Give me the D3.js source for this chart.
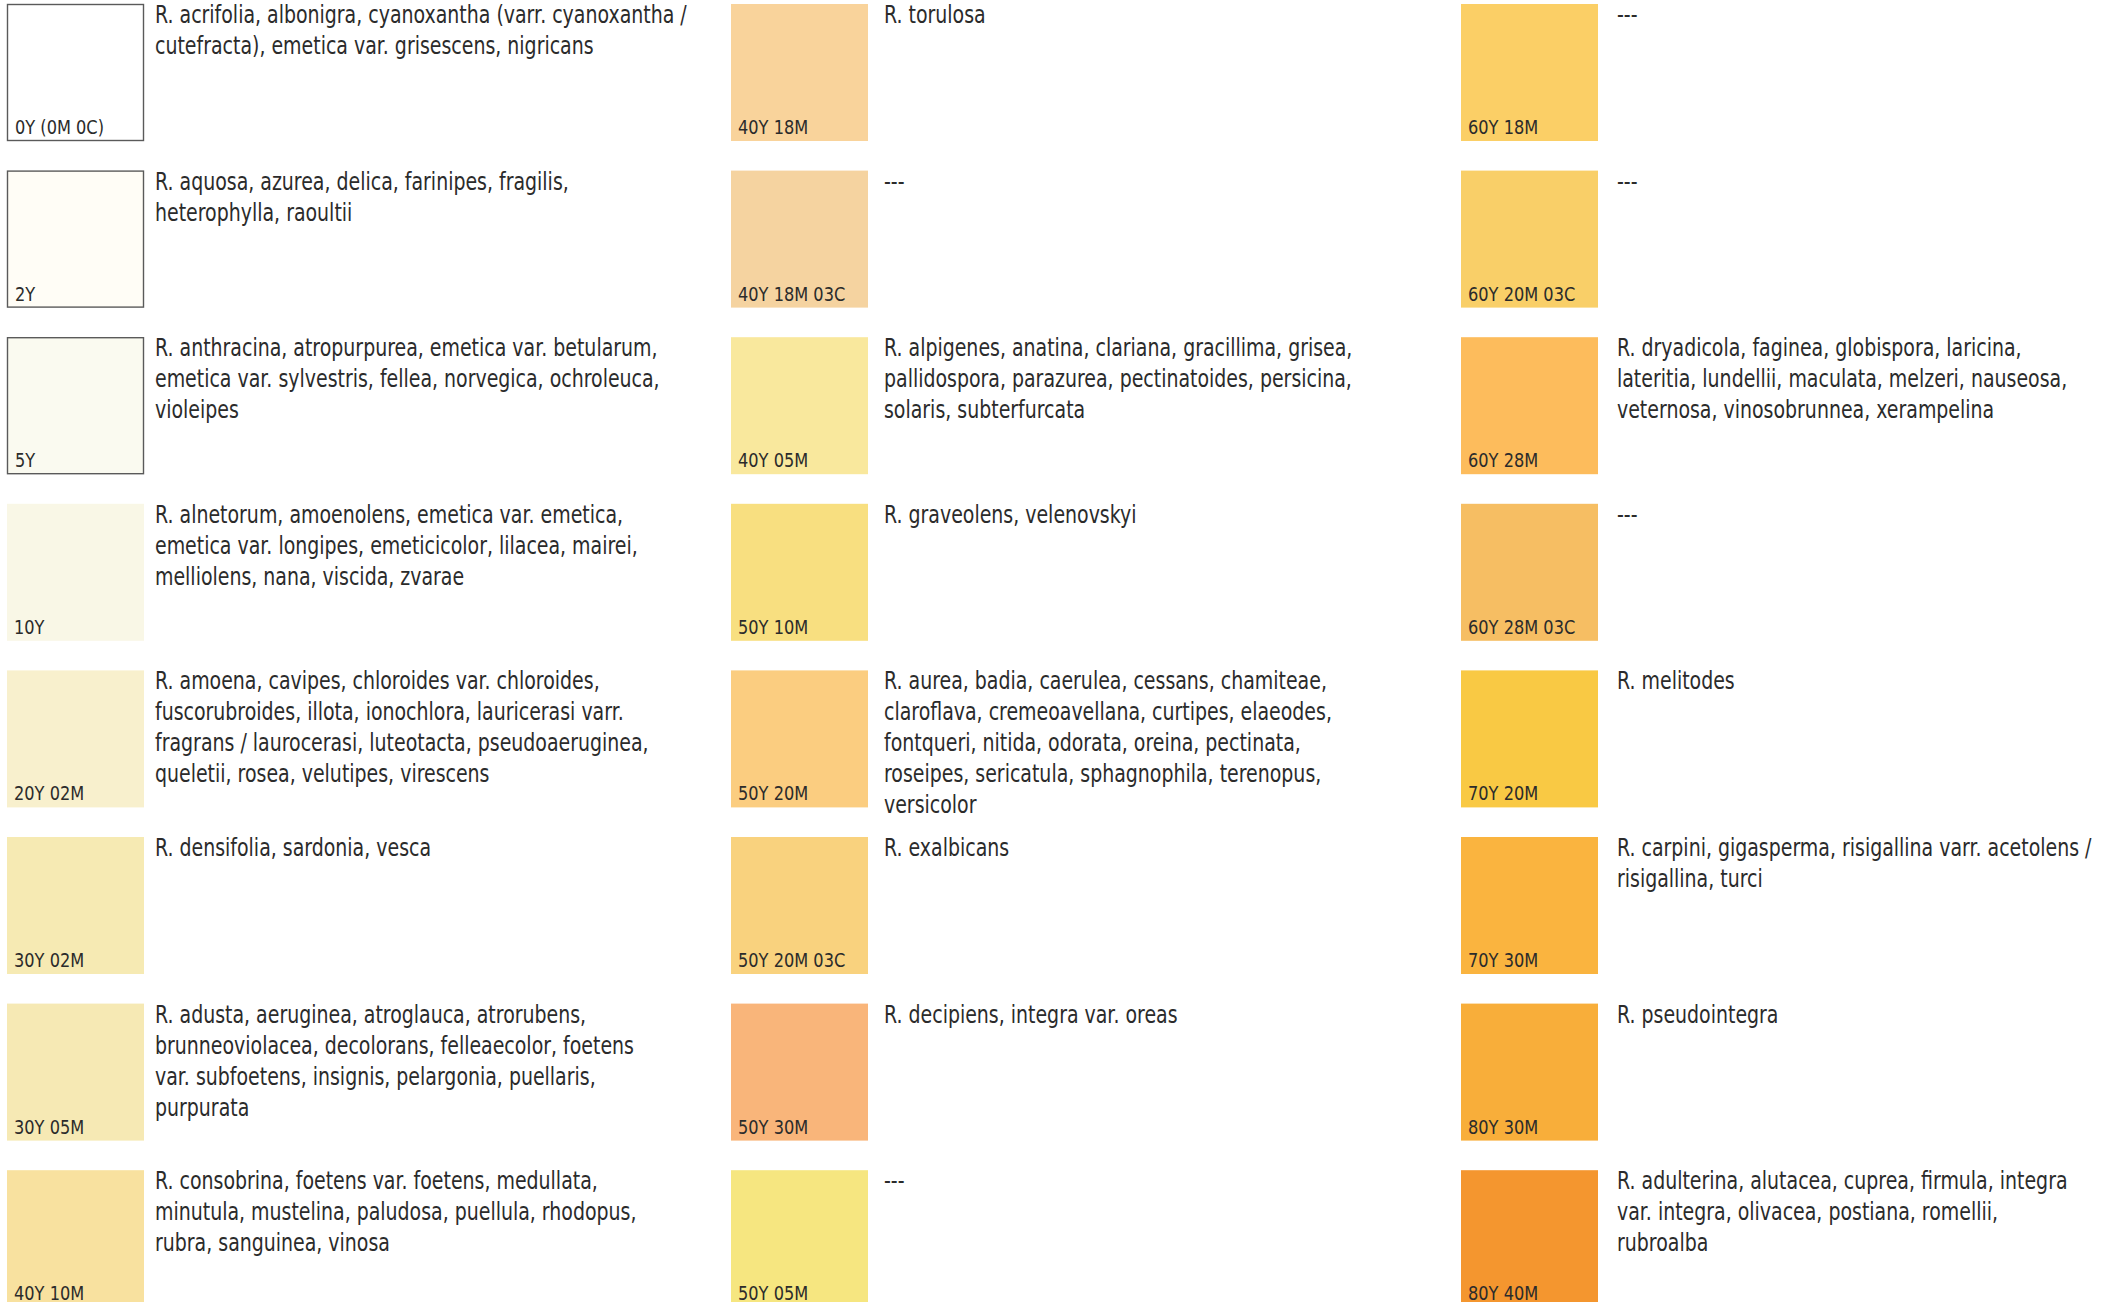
<!DOCTYPE html>
<html>
<head>
<meta charset="utf-8">
<script src="https://cdn.jsdelivr.net/npm/d3@7"></script>
<style>
  html, body { margin: 0; padding: 0; background: #fff; }
  svg { display: block; }
  .species, .code { font-family: "DejaVu Sans", sans-serif; fill: #2b2b2b; }
</style>
</head>
<body>
<svg id="chart" width="2116" height="1302"></svg>
<script>
const WIDTH  = 2116;
const HEIGHT = 1302;

const SWATCH    = 137;
const ROW_STEP  = 166.6;
const TOP       = 4;
const LINE_H    = 31;
// the original set uses a condensed face, so squeeze DejaVu sideways
const SQUEEZE_TEXT = 0.79;
const SQUEEZE_CODE = 0.81;

// colour codes, one list per column
const codesLeft   = ['0Y (0M 0C)', '2Y', '5Y', '10Y', '20Y  02M', '30Y 02M', '30Y 05M', '40Y 10M'];
const codesMiddle = ['40Y 18M', '40Y 18M 03C', '40Y 05M', '50Y 10M', '50Y 20M', '50Y 20M 03C', '50Y 30M', '50Y 05M'];
const codesRight  = ['60Y 18M', '60Y 20M 03C', '60Y 28M', '60Y 28M 03C', '70Y 20M', '70Y 30M', '80Y 30M', '80Y 40M'];

const fillsLeft   = ['#ffffff', '#fffdf6', '#fafaf0', '#f9f7e6', '#f8f0cd', '#f6eab3', '#f6e9b4', '#f8e19f'];
const fillsMiddle = ['#f9d39b', '#f5d3a0', '#f9e89d', '#f8df80', '#fbcd80', '#f9d27e', '#f9b57a', '#f6e680'];
const fillsRight  = ['#fbcf66', '#f9cf68', '#fdbc5c', '#f6be63', '#f9c944', '#fab43f', '#f8ae3a', '#f4962f'];

// swatches drawn with a grey frame
const framedLeft = [true, true, true, false, false, false, false, false];

const speciesLeft = [
    ['R. acrifolia, albonigra, cyanoxantha (varr. cyanoxantha /', 'cutefracta), emetica var. grisescens, nigricans'],
    ['R. aquosa, azurea, delica, farinipes, fragilis,', 'heterophylla, raoultii'],
    ['R. anthracina, atropurpurea, emetica var. betularum,', 'emetica var. sylvestris, fellea, norvegica, ochroleuca,', 'violeipes'],
    ['R. alnetorum, amoenolens, emetica var. emetica,', 'emetica var. longipes, emeticicolor, lilacea, mairei,', 'melliolens, nana, viscida, zvarae'],
    ['R. amoena, cavipes, chloroides var. chloroides,', 'fuscorubroides, illota, ionochlora, lauricerasi varr.', 'fragrans / laurocerasi, luteotacta, pseudoaeruginea,', 'queletii, rosea, velutipes, virescens'],
    ['R. densifolia, sardonia, vesca'],
    ['R. adusta, aeruginea, atroglauca, atrorubens,', 'brunneoviolacea, decolorans, felleaecolor, foetens', 'var. subfoetens, insignis, pelargonia, puellaris,', 'purpurata'],
    ['R. consobrina, foetens var. foetens, medullata,', 'minutula, mustelina, paludosa, puellula, rhodopus,', 'rubra, sanguinea, vinosa']
];
const speciesMiddle = [
    ['R. torulosa'],
    ['---'],
    ['R. alpigenes, anatina, clariana, gracillima, grisea,', 'pallidospora, parazurea, pectinatoides, persicina,', 'solaris, subterfurcata'],
    ['R. graveolens, velenovskyi'],
    ['R. aurea, badia, caerulea, cessans, chamiteae,', 'claroflava, cremeoavellana, curtipes, elaeodes,', 'fontqueri, nitida, odorata, oreina, pectinata,', 'roseipes, sericatula, sphagnophila, terenopus,', 'versicolor'],
    ['R. exalbicans'],
    ['R. decipiens, integra var. oreas'],
    ['---']
];
const speciesRight = [
    ['---'],
    ['---'],
    ['R. dryadicola, faginea, globispora, laricina,', 'lateritia, lundellii, maculata, melzeri, nauseosa,', 'veternosa, vinosobrunnea, xerampelina'],
    ['---'],
    ['R. melitodes'],
    ['R. carpini, gigasperma, risigallina varr. acetolens /', 'risigallina, turci'],
    ['R. pseudointegra'],
    ['R. adulterina, alutacea, cuprea, firmula, integra', 'var. integra, olivacea, postiana, romellii,', 'rubroalba']
];

const columns = [
    { codes: codesLeft,   fills: fillsLeft,   species: speciesLeft,   framed: framedLeft },
    { codes: codesMiddle, fills: fillsMiddle, species: speciesMiddle, framed: null },
    { codes: codesRight,  fills: fillsRight,  species: speciesRight,  framed: null }
];

// gap between swatch and species list differs slightly per column
const TEXT_OFFSET = [148, 153, 156];

const cells = [];
columns.forEach((col, c) => {
    col.codes.forEach((code, r) => {
        cells.push({
            col: c,
            row: r,
            code: code,
            fill: col.fills[r],
            lines: col.species[r],
            framed: col.framed ? col.framed[r] : false
        });
    });
});

const svg = d3.select('#chart');

const x = d3.scaleLinear().domain([0, 1, 2]).range([7, 731, 1461]);
const y = d3.scaleLinear().domain([0, 1]).range([TOP, TOP + ROW_STEP]);

const cell = svg.selectAll('g.cell')
    .data(cells)
    .join('g')
    .attr('class', 'cell')
    .attr('transform', d => `translate(${x(d.col)},${y(d.row)})`);

// colour swatch
cell.append('rect')
    .attr('x', d => d.framed ? 0.5 : 0)
    .attr('y', d => d.framed ? 0.5 : 0)
    .attr('width', d => d.framed ? SWATCH - 1 : SWATCH)
    .attr('height', d => d.framed ? SWATCH - 1 : SWATCH)
    .attr('fill', d => d.fill)
    .attr('stroke', d => d.framed ? '#5a5a5a' : 'none')
    .attr('stroke-width', 1.4);

// colour code inside swatch
cell.append('text')
    .attr('class', 'code')
    .attr('transform', d => `translate(${d.framed ? 8 : 7},${SWATCH - 7}) scale(${SQUEEZE_CODE},1)`)
    .attr('font-size', 20)
    .text(d => d.code);

// species list
const species = cell.append('text')
    .attr('class', 'species')
    .attr('transform', d => `translate(${TEXT_OFFSET[d.col]},19) scale(${SQUEEZE_TEXT},1)`)
    .attr('font-size', 24);

species.selectAll('tspan')
    .data(d => d.lines.map((t, i) => ({ t, i })))
    .join('tspan')
    .attr('x', 0)
    .attr('dy', d => d.i === 0 ? 0 : LINE_H)
    .text(d => d.t);
</script>
</body>
</html>
